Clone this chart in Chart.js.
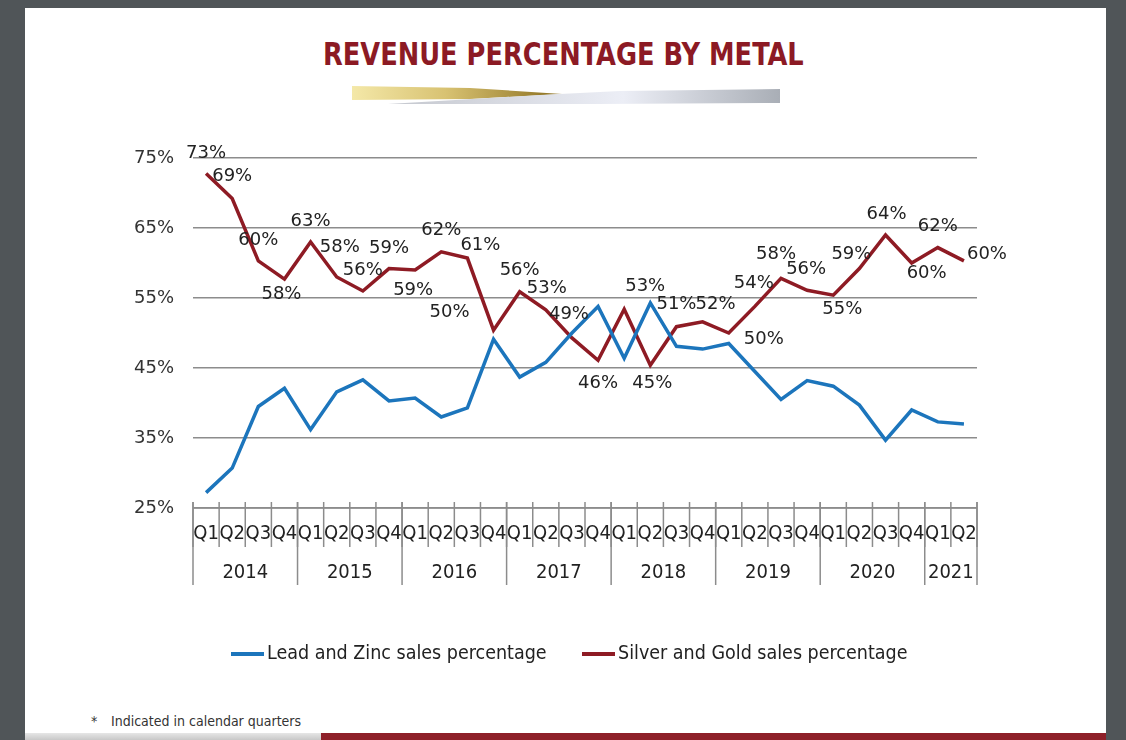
<!DOCTYPE html>
<html lang="en">
<head>
    <meta charset="UTF-8">
    <title>Revenue Percentage by Metal</title>
    <style>
        body {
            margin: 0;
            width: 1126px;
            height: 740px;
            overflow: hidden;
            background-color: #505558;
            position: relative;
            font-family: "DejaVu Sans Condensed", "DejaVu Sans", sans-serif;
        }

        .page {
            position: absolute;
            left: 25px;
            top: 8px;
            width: 1081px;
            height: 732px;
            background-color: #fff;
        }

        .title {
            position: absolute;
            left: 0;
            top: 39px;
            width: 1126px;
            text-align: center;
            line-height: 31px;
        }

        .title span {
            display: inline-block;
            font-weight: bold;
            font-size: 32px;
            color: #8c1a24;
            transform-origin: center;
        }

        .ribbon {
            position: absolute;
            left: 0;
            top: 0;
        }

        .footnote {
            position: absolute;
            left: 91px;
            top: 713px;
            font-size: 14px;
            color: #333;
            white-space: nowrap;
        }

        .footnote .star {
            display: inline-block;
            width: 20px;
        }

        .strip-grey {
            position: absolute;
            left: 25px;
            top: 733px;
            width: 296px;
            height: 7px;
            background: linear-gradient(#e6e6e6, #c8c8c8);
        }

        .strip-red {
            position: absolute;
            left: 321px;
            top: 733px;
            width: 785px;
            height: 7px;
            background-color: #8e2029;
        }

        #chart {
            position: absolute;
            left: 0;
            top: 0;
        }
    </style>
</head>
<body>
    <div class="page"></div>

    <div class="title"><span id="title">REVENUE PERCENTAGE BY METAL</span></div>

    <!-- gold / silver ribbon under the title -->
    <svg class="ribbon" width="1126" height="120">
        <defs>
            <linearGradient id="gold" x1="352" y1="0" x2="560" y2="0" gradientUnits="userSpaceOnUse">
                <stop offset="0" stop-color="#f4e8a8"/>
                <stop offset="0.45" stop-color="#d8c272"/>
                <stop offset="1" stop-color="#8c7020"/>
            </linearGradient>
            <linearGradient id="silver" x1="388" y1="0" x2="780" y2="0" gradientUnits="userSpaceOnUse">
                <stop offset="0" stop-color="#c4c7ce"/>
                <stop offset="0.6" stop-color="#eceef6"/>
                <stop offset="1" stop-color="#a9aeb6"/>
            </linearGradient>
        </defs>
        <polygon points="352,86 470,88 562,94 470,99 352,100" fill="url(#gold)"/>
        <polygon points="388,104 540,95 620,91 780,89 780,103 600,104" fill="url(#silver)"/>
    </svg>

    <div class="footnote"><span class="star">*</span>Indicated in calendar quarters</div>
    <div class="strip-grey"></div>
    <div class="strip-red"></div>

    <canvas id="chart" width="1126" height="740"></canvas>

    <script src="https://cdn.jsdelivr.net/npm/chart.js"></script>
    <script>
        // Quarters (calendar) and the years they belong to
        const quarterLabels = ['Q1', 'Q2', 'Q3', 'Q4', 'Q1', 'Q2', 'Q3', 'Q4', 'Q1', 'Q2', 'Q3', 'Q4',
            'Q1', 'Q2', 'Q3', 'Q4', 'Q1', 'Q2', 'Q3', 'Q4', 'Q1', 'Q2', 'Q3', 'Q4',
            'Q1', 'Q2', 'Q3', 'Q4', 'Q1', 'Q2'];
        const yearLabels = ['2014', '2015', '2016', '2017', '2018', '2019', '2020', '2021'];
        const quartersPerYear = [4, 4, 4, 4, 4, 4, 4, 2];

        // Revenue share per quarter (%)
        const leadZinc = [27.2, 30.7, 39.5, 42.1, 36.2, 41.6, 43.3, 40.3, 40.7, 38.0, 39.3, 49.1,
            43.7, 45.8, 50.0, 53.8, 46.4, 54.3, 48.1, 47.7, 48.5, 44.5, 40.5, 43.2,
            42.4, 39.7, 34.7, 39.0, 37.3, 37.0];
        const silverGold = [72.8, 69.2, 60.3, 57.7, 63.0, 58.0, 56.0, 59.2, 59.0, 61.6, 60.7, 50.4,
            55.9, 53.3, 49.3, 46.1, 53.4, 45.4, 50.9, 51.6, 50.0, 53.8, 57.8, 56.1,
            55.4, 59.2, 64.0, 60.0, 62.2, 60.3];

        const yTicks = [25, 35, 45, 55, 65, 75];

        // where each silver/gold value label sits relative to its point (px)
        const labelOffsets = [[0, -20], [0, -22], [0, -21], [-3, 15], [0, -21], [3, -30],
            [0, -21], [0, -20], [-2, 20], [0, -21], [13, -13], [-44, -18],
            [0, -21], [1, -22], [-3, -24], [0, 23], [21, -23], [2, 18],
            [0, -22], [13, -17], [35, 6], [-1, -23], [-5, -24], [-1, -21],
            [9, 14], [-8, -14], [1, -21], [15, 10], [0, -21], [23, -7]];

        const gridColor = '#8c8c8c';
        const condensed = '"DejaVu Sans Condensed", "DejaVu Sans", sans-serif';

        // squeeze the title to the width of the original
        const titleEl = document.getElementById('title');
        titleEl.style.transform = 'scaleX(' + (481 / titleEl.offsetWidth) + ')';

        // Two level category axis: quarters, then years
        const quarterAxis = {
            id: 'quarterAxis',
            afterDraw(chart) {
                const ctx = chart.ctx;
                const x = chart.scales.x;
                const area = chart.chartArea;
                const step = (area.right - area.left) / quarterLabels.length;
                ctx.save();
                ctx.strokeStyle = gridColor;
                ctx.lineWidth = 1.5;

                // axis line
                ctx.beginPath();
                ctx.moveTo(area.left, area.bottom);
                ctx.lineTo(area.right, area.bottom);
                ctx.stroke();

                // short ticks between quarters
                for (let i = 0; i <= quarterLabels.length; i++) {
                    const px = x.getPixelForValue(i) - step / 2;
                    ctx.beginPath();
                    ctx.moveTo(px, area.bottom - 6);
                    ctx.lineTo(px, area.bottom + 39);
                    ctx.stroke();
                }

                // long ticks between years
                let idx = 0;
                const bounds = [0];
                quartersPerYear.forEach(n => { idx += n; bounds.push(idx); });
                bounds.forEach(b => {
                    const px = x.getPixelForValue(b) - step / 2;
                    ctx.beginPath();
                    ctx.moveTo(px, area.bottom - 6);
                    ctx.lineTo(px, area.bottom + 77);
                    ctx.stroke();
                });

                ctx.fillStyle = '#222';
                ctx.font = '20px ' + condensed;
                ctx.textAlign = 'center';
                ctx.textBaseline = 'middle';
                quarterLabels.forEach((q, i) => {
                    ctx.fillText(q, x.getPixelForValue(i), area.bottom + 26);
                });
                yearLabels.forEach((yr, i) => {
                    const a = x.getPixelForValue(bounds[i]) - step / 2;
                    const b = x.getPixelForValue(bounds[i + 1]) - step / 2;
                    ctx.fillText(yr, (a + b) / 2, area.bottom + 65);
                });
                ctx.restore();
            }
        };

        // value labels for the silver and gold line
        const valueLabels = {
            id: 'valueLabels',
            afterDatasetsDraw(chart) {
                const ctx = chart.ctx;
                const meta = chart.getDatasetMeta(1);
                ctx.save();
                ctx.fillStyle = '#222';
                ctx.font = '18px "DejaVu Sans", sans-serif';
                ctx.textAlign = 'center';
                ctx.textBaseline = 'middle';
                meta.data.forEach((pt, i) => {
                    const off = labelOffsets[i];
                    ctx.fillText(Math.round(silverGold[i]) + '%', pt.x + off[0], pt.y + off[1]);
                });
                ctx.restore();
            }
        };

        // legend with short line markers
        const lineLegend = {
            id: 'lineLegend',
            afterDraw(chart) {
                const ctx = chart.ctx;
                const spots = [231, 582];
                ctx.save();
                ctx.font = '19.5px ' + condensed;
                ctx.textBaseline = 'middle';
                ctx.textAlign = 'left';
                chart.data.datasets.forEach((ds, i) => {
                    const x0 = spots[i];
                    ctx.strokeStyle = ds.borderColor;
                    ctx.lineWidth = 4;
                    ctx.beginPath();
                    ctx.moveTo(x0, 654);
                    ctx.lineTo(x0 + 33, 654);
                    ctx.stroke();
                    ctx.fillStyle = '#222';
                    ctx.fillText(ds.label, x0 + 36, 654);
                });
                ctx.restore();
            }
        };

        const chart = new Chart(document.getElementById('chart'), {
            type: 'line',
            data: {
                labels: quarterLabels,
                datasets: [{
                    label: 'Lead and Zinc sales percentage',
                    data: leadZinc,
                    borderColor: '#1c75bc',
                    borderWidth: 3.5,
                    pointRadius: 0,
                    tension: 0
                }, {
                    label: 'Silver and Gold sales percentage',
                    data: silverGold,
                    borderColor: '#8e1b24',
                    borderWidth: 3.5,
                    pointRadius: 0,
                    tension: 0
                }]
            },
            options: {
                responsive: false,
                animation: false,
                devicePixelRatio: 1,
                layout: {
                    padding: { left: 123, right: 149, top: 158, bottom: 232 }
                },
                plugins: {
                    legend: { display: false },
                    tooltip: { enabled: false }
                },
                scales: {
                    x: {
                        type: 'category',
                        offset: true,
                        display: false
                    },
                    y: {
                        min: 25,
                        max: 75,
                        afterFit: scale => { scale.width = 70; },
                        afterBuildTicks: scale => { scale.ticks = yTicks.map(v => ({ value: v })); },
                        border: { display: false },
                        grid: { color: gridColor, lineWidth: 1.5, drawTicks: false },
                        ticks: {
                            padding: 19,
                            color: '#333',
                            font: { family: '"DejaVu Sans", sans-serif', size: 18 },
                            callback: v => v + '%'
                        }
                    }
                }
            },
            plugins: [valueLabels, quarterAxis, lineLegend]
        });
    </script>
</body>
</html>
